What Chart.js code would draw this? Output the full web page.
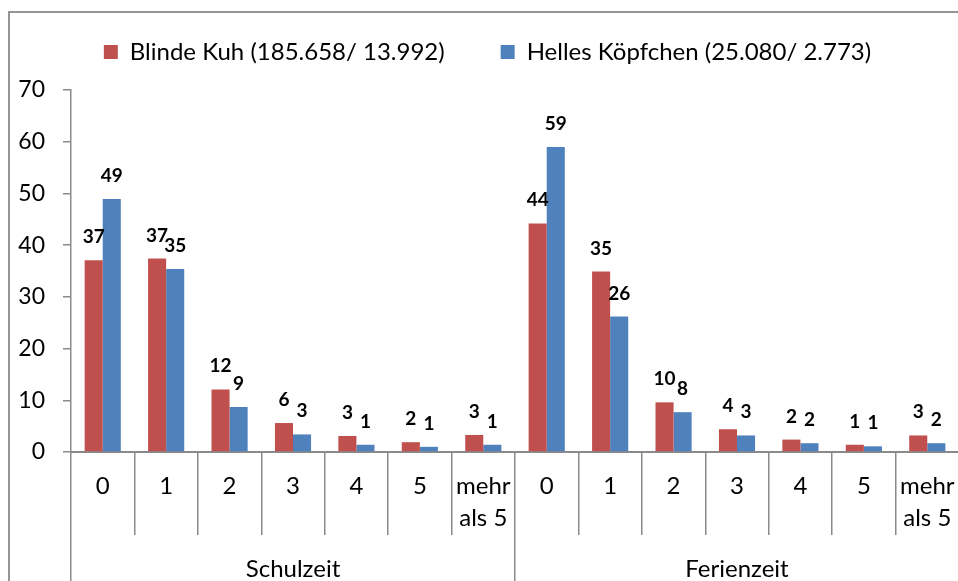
<!DOCTYPE html>
<html>
<head>
<meta charset="utf-8">
<script src="https://cdn.jsdelivr.net/npm/chart.js@4/dist/chart.umd.min.js"></script>
<style>
  html, body { margin: 0; padding: 0; overflow: hidden; background: #fff; }
  .frame { position: absolute; left: 8px; top: 11px; width: 1000px; height: 700px; border: 2px solid #959595; }
  .chartBox { position: absolute; left: 0; top: 0; width: 980px; height: 620px; }
</style>
</head>
<body>
<div class="frame"></div>
<div class="chartBox"><canvas id="myChart"></canvas></div>
<script>
// Data
const categories = ['0', '1', '2', '3', '4', '5', ['mehr', 'als 5'],
                    '0', '1', '2', '3', '4', '5', ['mehr', 'als 5']];
const groups = ['Schulzeit', 'Ferienzeit'];
const seriesNames = ['Blinde Kuh (185.658/ 13.992)', 'Helles Köpfchen (25.080/ 2.773)'];
const blindeKuh = [37.1, 37.4, 12.1, 5.6, 3.1, 1.9, 3.3,
                   44.2, 34.9, 9.6, 4.4, 2.4, 1.4, 3.2];
const hellesKoepfchen = [48.9, 35.4, 8.7, 3.4, 1.4, 1.0, 1.4,
                         59.0, 26.2, 7.7, 3.2, 1.7, 1.1, 1.7];
const yMin = 0;
const yMax = 70;
const yStep = 10;

const axisGray = '#8a8a8a';
Chart.defaults.font.family = 'Lato';
Chart.defaults.color = '#000';

// extra space below the legend
const legendSpacing = {
  id: 'legendSpacing',
  beforeInit(chart) {
    const originalFit = chart.legend.fit;
    chart.legend.fit = function fit() {
      originalFit.bind(chart.legend)();
      this.height += 16;
    };
  }
};

// rounded value labels above the bars
const barValues = {
  id: 'barValues',
  afterDatasetsDraw(chart) {
    const ctx = chart.ctx;
    ctx.save();
    ctx.font = 'bold 19px Lato';
    ctx.fillStyle = '#000';
    ctx.textAlign = 'center';
    ctx.textBaseline = 'alphabetic';
    chart.data.datasets.forEach((ds, i) => {
      chart.getDatasetMeta(i).data.forEach((bar, j) => {
        ctx.fillText(String(Math.round(ds.data[j])), bar.x, bar.y - 17);
      });
    });
    ctx.restore();
  }
};

const data = {
  labels: categories,
  datasets: [{
    label: seriesNames[0],
    data: blindeKuh,
    backgroundColor: '#C0504D'
  }, {
    label: seriesNames[1],
    data: hellesKoepfchen,
    backgroundColor: '#4F81BD'
  }]
};

const config = {
  type: 'bar',
  data,
  options: {
    responsive: true,
    maintainAspectRatio: false,
    animation: false,
    layout: { padding: { top: -16, left: 16, right: 21, bottom: 0 } },
    datasets: { bar: { categoryPercentage: 0.57, barPercentage: 1 } },
    plugins: {
      legend: {
        position: 'top',
        labels: { boxWidth: 14, boxHeight: 14, padding: 56, font: { size: 24 } }
      },
      tooltip: { enabled: false }
    },
    scales: {
      x: {
        position: 'bottom',
        offset: true,
        grid: { offset: true, drawOnChartArea: false, drawTicks: true, tickLength: 83, color: axisGray, lineWidth: 1.5 },
        border: { display: true, color: axisGray, width: 2 },
        ticks: { font: { size: 24, lineHeight: 1.3 }, padding: -64, maxRotation: 0, autoSkip: false },
        afterFit(scale) { scale.height = 83; }
      },
      x2: {
        type: 'category',
        labels: groups,
        position: 'bottom',
        weight: 1,
        offset: true,
        grid: { offset: true, drawOnChartArea: false, drawTicks: true, tickLength: 100, color: axisGray, lineWidth: 1.5 },
        border: { display: false },
        ticks: { font: { size: 24, lineHeight: 1.3 }, padding: -81, maxRotation: 0 },
        afterFit(scale) { scale.height = 85; }
      },
      y: {
        min: yMin,
        max: yMax,
        ticks: { stepSize: yStep, font: { size: 23 }, padding: 18 },
        grid: { drawOnChartArea: false, drawTicks: true, tickLength: 8, color: axisGray, lineWidth: 1.5 },
        border: { display: true, color: axisGray, width: 1.5 },
        afterFit(scale) { scale.width = 55; }
      }
    }
  },
  plugins: [legendSpacing, barValues]
};

const myChart = new Chart(document.getElementById('myChart'), config);
</script>
</body>
</html>
